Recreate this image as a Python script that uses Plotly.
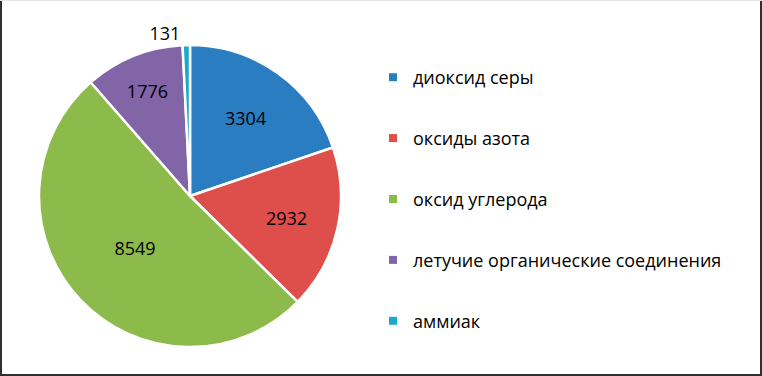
import plotly.graph_objects as go

labels = ["диоксид серы", "оксиды азота", "оксид углерода",
          "летучие органические соединения", "аммиак"]
values = [3304, 2932, 8549, 1776, 131]
colors = ["#2a7dc1", "#de4f4c", "#8cbb4b", "#8165a6", "#1ba9c9"]
text_pos = ["inside", "inside", "inside", "inside", "outside"]

W, H = 762, 376
cx, cy, r = 190, 196, 151

fig = go.Figure()
fig.add_trace(go.Pie(
    labels=labels, values=values, sort=False, direction="clockwise", rotation=0,
    marker=dict(colors=colors, line=dict(color="white", width=2.5)),
    textinfo="value", textposition=text_pos,
    insidetextorientation="horizontal",
    textfont=dict(family="Open Sans", size=18, color="black"),
    showlegend=False,
    domain=dict(x=[(cx - r) / W, (cx + r) / W], y=[1 - (cy + r) / H, 1 - (cy - r) / H]),
))
for lab, col in zip(labels, colors):
    fig.add_trace(go.Scatter(
        x=[None], y=[None], mode="markers", name=lab, legendgroup=lab,
        marker=dict(symbol="square", size=8, color=col),
    ))

border = dict(color="#303030", width=4)
fig.update_layout(
    width=W, height=H, margin=dict(l=0, r=0, t=0, b=0),
    paper_bgcolor="white", plot_bgcolor="rgba(0,0,0,0)",
    xaxis=dict(visible=False), yaxis=dict(visible=False),
    legend=dict(x=373 / W, xanchor="left", y=1 - 59 / H, yanchor="top",
                tracegroupgap=34.5, font=dict(family="Open Sans", size=18, color="black"),
                bgcolor="rgba(0,0,0,0)", itemclick=False),
    shapes=[
        dict(type="line", xref="paper", yref="paper", x0=0, x1=0, y0=0, y1=1, line=border),
        dict(type="line", xref="paper", yref="paper", x0=1, x1=1, y0=0, y1=1, line=border),
        dict(type="line", xref="paper", yref="paper", x0=0, x1=1, y0=0, y1=0, line=border),
        dict(type="line", xref="paper", yref="paper", x0=0, x1=1, y0=1, y1=1,
             line=dict(color="#e6e6e6", width=2)),
    ],
)
fig.write_html("out.html", config={"displayModeBar": False},
               post_script="document.body.style.margin='0';document.body.style.overflow='hidden';")
